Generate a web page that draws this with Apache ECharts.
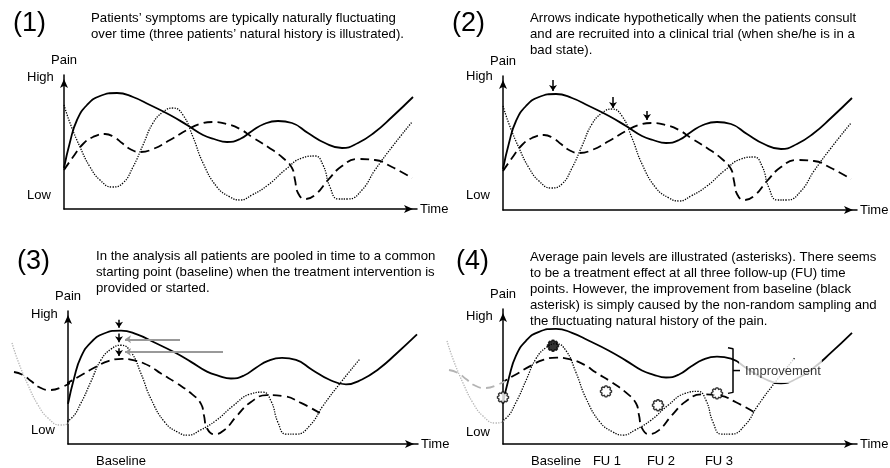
<!DOCTYPE html>
<html>
<head>
<meta charset="utf-8">
<style>html,body{margin:0;padding:0;background:#fff}#c{width:890px;height:468px}</style>
<script src="https://cdn.jsdelivr.net/npm/echarts@6/dist/echarts.min.js"></script>
</head>
<body>
<div id="c"></div>
<script>
// ---- data (time units, pain units) ----
const solidCurve = [[0,41],[6,67],[13,89],[23,104],[36,113],[53,116],[69,112],[86,104],[106,94],[123,84],[139,74],[150,70],[163,67],[176,70],[188,78],[200,85],[214,88],[228,86],[244,76],[261,66],[278,61],[294,66],[311,77],[328,92],[349,112]];
const dashedCurve = [[0,39],[9,52],[19,65],[29,72],[41,75],[50,72],[58,66],[66,60],[76,57],[89,60],[106,69],[123,79],[136,85],[149,87],[163,85],[176,80],[188,72],[204,62],[219,51],[228,41],[231,29],[234,16],[241,10],[251,14],[264,29],[278,43],[294,50],[311,49],[328,42],[348,31]];
const dottedCurve = [[0,104],[6,86],[16,62],[26,42],[36,29],[48,22],[59,26],[69,42],[79,64],[89,86],[99,97],[109,101],[119,94],[129,72],[139,46],[153,22],[166,12],[176,9],[188,14],[204,24],[221,39],[238,51],[251,53],[259,44],[266,22],[274,10],[284,10],[298,19],[311,39],[328,62],[348,87]];
// time shift applied when pooling to baseline (panels 3 & 4)
const shiftSolid = 0, shiftDashed = -95, shiftDotted = -56, pooledStart = -57;
// panel 2 recruitment arrows [[t,pFrom],[t,pTo]]
const recruitArrows = [[[50,130],[50,119]],[[110,113],[110,102]],[[144,99],[144,90]]];
// panel 3 arrows
const baselineArrows = [[[51,127],[51,119]],[[51,113],[51,104]],[[51,98],[51,90]]];
const poolArrows = [[[112,107],[57,107]],[[155,94],[57,94]]];
// panel 4 averages
const avgOpen = [[0,47],[103,53],[155,39],[214,51]];
const avgBaseline = [[50,99]];
const bracketPath = [[225,97],[230,96],[230,52],[225,51]];
const bracketTick = [[230,74],[237,74]];
const improvementPos = [[236,73]];
// tick labels
const yTickLabels = ['High','Low'];
const yTicks = [[132,14],[134,15],[132,14],[129,12]];
const p3XTicks = [53], p3XLabels = ['Baseline'];
const p4XTicks = [53,104,158,216], p4XLabels = ['Baseline','FU 1','FU 2','FU 3'];
const titles = ['(1)','(2)','(3)','(4)'];
const texts = [
 'Patients\u2019 symptoms are typically naturally fluctuating\nover time (three patients\u2019 natural history is illustrated).',
 'Arrows indicate hypothetically when the patients consult\nand are recruited into a clinical trial (when she/he is in a\nbad state).',
 'In the analysis all patients are pooled in time to a common\nstarting point (baseline) when the treatment intervention is\nprovided or started.',
 'Average pain levels are illustrated (asterisks). There seems\nto be a treatment effect at all three follow-up (FU) time\npoints. However, the improvement from baseline (black\nasterisk) is simply caused by the non-random sampling and\nthe fluctuating natural history of the pain.'
];

const FF = '"Liberation Sans", Arial, sans-serif';
const grids = [
 {left:64, top:75, width:353, height:134},
 {left:503, top:76, width:354, height:134},
 {left:68, top:311, width:350, height:136},
 {left:503, top:309, width:354, height:136},
 // areas before the pooled baseline (left of the y axis) in panels 3 and 4
 {left:6, top:311, width:62, height:136},
 {left:441, top:309, width:62, height:136}
];
const xLabelSets = [null, null, [p3XTicks,p3XLabels], [p4XTicks,p4XLabels]];
const axisLine = {show:true, onZero:false, symbol:['none','arrow'], symbolSize:[6,9], symbolOffset:[0,-4], lineStyle:{color:'#000', width:1.5}};
const xAxes = grids.slice(0,4).map((g,i)=>{
  const ls = xLabelSets[i];
  return {gridIndex:i, type:'value', min:0, max:g.width, name:'Time', nameLocation:'end', nameGap:3,
    nameTextStyle:{fontSize:13, color:'#000', fontFamily:FF},
    axisLine, axisTick:{show:false}, splitLine:{show:false},
    axisLabel: ls ? {show:true, customValues:ls[0], formatter:v=>ls[1][ls[0].indexOf(v)], margin:11, color:'#000', fontSize:13, fontFamily:FF} : {show:false}};
});
const yAxes = grids.slice(0,4).map((g,i)=>({gridIndex:i, type:'value', min:0, max:g.height, name:'Pain', nameLocation:'end', nameGap:8,
  nameTextStyle:{fontSize:13, color:'#000', fontFamily:FF},
  axisLine, axisTick:{show:false}, splitLine:{show:false},
  axisLabel:{show:true, customValues:yTicks[i], formatter:v=>yTickLabels[yTicks[i].indexOf(v)], align:'left', margin:37, color:'#000', fontSize:13, fontFamily:FF}}));
[4,5].forEach(i=>{
  xAxes.push({gridIndex:i, type:'value', min:-grids[i].width, max:0, show:false});
  yAxes.push({gridIndex:i, type:'value', min:0, max:grids[i].height, show:false});
});

const series = [];
const solidStyle = {width:1.8, type:'solid'};
const dashedStyle = {width:1.8, type:[9,5]};
const dottedStyle = {width:1.3, type:[1.3,1.3]};
const BLACK = '#000', DOT = '#000', GREY = '#b4b4b4';
function shifted(data, s){ return data.map(d=>[d[0]+s, d[1]]).filter(d=>d[0]>=pooledStart); }
function curve(i, data, style, color, clip){
  const ls = Object.assign({color}, style);
  series.push({type:'line', xAxisIndex:i, yAxisIndex:i, data, smooth:0.5, showSymbol:false, symbol:'none', clip:!!clip, lineStyle:ls, color, silent:true, z:2});
}
// panels 1 & 2: natural history
for (const i of [0,1]) {
  curve(i, solidCurve, solidStyle, BLACK);
  curve(i, dashedCurve, dashedStyle, BLACK);
  curve(i, dottedCurve, dottedStyle, DOT);
}
// panels 3 & 4: pooled to baseline
for (const i of [2,3]) {
  curve(i, shifted(solidCurve, shiftSolid), solidStyle, BLACK, true);
  curve(i, shifted(dashedCurve, shiftDashed), dashedStyle, BLACK, true);
  curve(i, shifted(dottedCurve, shiftDotted), dottedStyle, DOT, true);
}
curve(4, shifted(dashedCurve, shiftDashed), dashedStyle, BLACK, true);
curve(4, shifted(dottedCurve, shiftDotted), dottedStyle, GREY, true);
curve(5, shifted(dashedCurve, shiftDashed), dashedStyle, GREY, true);
curve(5, shifted(dottedCurve, shiftDotted), dottedStyle, GREY, true);

function arrows(i, list, color, width){
  series.push({type:'lines', coordinateSystem:'cartesian2d', xAxisIndex:i, yAxisIndex:i, silent:true,
    symbol:['none','arrow'], symbolSize:6, lineStyle:{color, width, opacity:1, curveness:0},
    data:list.map(c=>({coords:c})), z:4});
}
arrows(1, recruitArrows, '#000', 1.5);
arrows(2, baselineArrows, '#000', 1.5);
arrows(2, poolArrows, '#999', 2);

const gear = 'path://M19.9 8.61 L19.9 11.39 L17.21 12.99 L17.99 16.02 L16.02 17.99 L12.99 17.21 L11.39 19.9 L8.61 19.9 L7.01 17.21 L3.98 17.99 L2.01 16.02 L2.79 12.99 L0.1 11.39 L0.1 8.61 L2.79 7.01 L2.01 3.98 L3.98 2.01 L7.01 2.79 L8.61 0.1 L11.39 0.1 L12.99 2.79 L16.02 2.01 L17.99 3.98 L17.21 7.01 Z';
series.push({type:'scatter', xAxisIndex:3, yAxisIndex:3, data:improvementPos, symbolSize:0, clip:false, z:8, silent:true,
  label:{show:true, formatter:'Improvement', position:'right', distance:0, backgroundColor:'#fff', padding:[5,1,5,6], color:'#000', fontSize:13, fontFamily:FF}});
series.push({type:'line', xAxisIndex:3, yAxisIndex:3, data:bracketPath, showSymbol:false, symbol:'none', lineStyle:{color:'#000', width:1.5}, clip:false, z:9, silent:true});
series.push({type:'line', xAxisIndex:3, yAxisIndex:3, data:bracketTick, showSymbol:false, symbol:'none', lineStyle:{color:'#000', width:1.5}, clip:false, z:9, silent:true});
series.push({type:'scatter', xAxisIndex:3, yAxisIndex:3, data:avgOpen, symbol:gear, symbolSize:11, clip:false, z:10, silent:true,
  itemStyle:{color:'#fff', borderColor:'#000', borderWidth:1.4}});
series.push({type:'scatter', xAxisIndex:3, yAxisIndex:3, data:avgBaseline, symbol:gear, symbolSize:11, clip:false, z:10, silent:true,
  itemStyle:{color:'#000', borderColor:'#000', borderWidth:1.4}});

const titlePos = [[13,24],[452,24],[17,262],[456,262]];
const textPos = [[91,10],[530,10],[96,248],[530,249]];
const graphic = [];
titles.forEach((t,i)=>graphic.push({type:'text', x:titlePos[i][0], y:titlePos[i][1], silent:true,
  style:{text:t, font:'27px '+FF, fill:'#000', verticalAlign:'middle'}}));
texts.forEach((t,i)=>graphic.push({type:'text', x:textPos[i][0], y:textPos[i][1], silent:true,
  style:{text:t, font:'13.2px '+FF, fill:'#000', lineHeight:16, verticalAlign:'top'}}));

const chart = echarts.init(document.getElementById('c'), null, {renderer:'canvas'});
chart.setOption({
  animation:false,
  backgroundColor:'#fff',
  grid: grids,
  xAxis: xAxes,
  yAxis: yAxes,
  graphic,
  series
});
</script>
</body>
</html>
